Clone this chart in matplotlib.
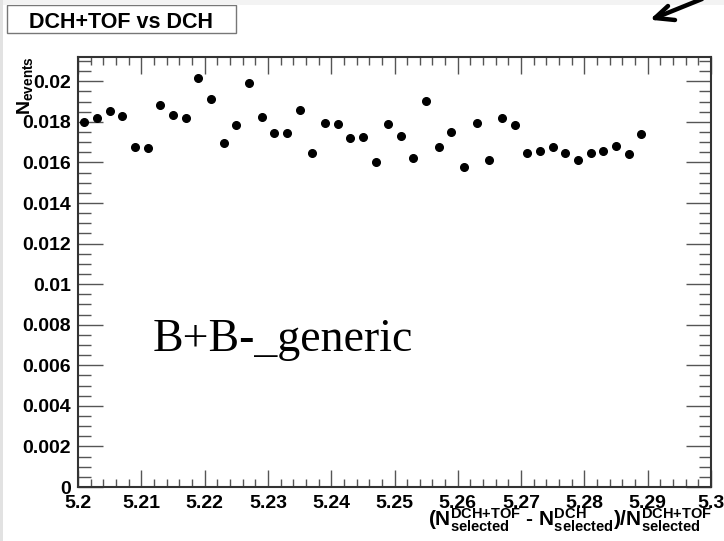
import matplotlib
matplotlib.use('Agg')
import matplotlib.pyplot as plt
from matplotlib.patches import Rectangle
from matplotlib.lines import Line2D
from matplotlib.ticker import MultipleLocator, FuncFormatter

plt.rcParams['font.family'] = 'Liberation Sans'
plt.rcParams['font.weight'] = 'bold'
plt.rcParams['mathtext.fontset'] = 'custom'
plt.rcParams['mathtext.rm'] = 'Liberation Sans:bold'
plt.rcParams['mathtext.bf'] = 'Liberation Sans:bold'
plt.rcParams['mathtext.it'] = 'Liberation Sans:bold'

# bin centres (bin width 0.002) and normalised event counts
bin_centers = [5.201, 5.203, 5.205, 5.207, 5.209, 5.211, 5.213, 5.215, 5.217, 5.219,
               5.221, 5.223, 5.225, 5.227, 5.229, 5.231, 5.233, 5.235, 5.237, 5.239,
               5.241, 5.243, 5.245, 5.247, 5.249, 5.251, 5.253, 5.255, 5.257, 5.259,
               5.261, 5.263, 5.265, 5.267, 5.269, 5.271, 5.273, 5.275, 5.277, 5.279,
               5.281, 5.283, 5.285, 5.287, 5.289]
n_events = [0.01798, 0.01818, 0.01856, 0.01829, 0.01676, 0.01671, 0.01882, 0.01836, 0.01821, 0.02016,
            0.01915, 0.01698, 0.01785, 0.01992, 0.01823, 0.01747, 0.01745, 0.01859, 0.01649, 0.01793,
            0.01791, 0.01723, 0.01727, 0.01602, 0.01790, 0.01729, 0.01621, 0.01901, 0.01675, 0.01749,
            0.01578, 0.01795, 0.01611, 0.01819, 0.01785, 0.01645, 0.01658, 0.01676, 0.01645, 0.01612,
            0.01647, 0.01655, 0.01683, 0.01640, 0.01742]

W, H = 724, 541
fig = plt.figure(figsize=(W / 100, H / 100), dpi=100)
ax = fig.add_axes([78 / W, 1 - 487 / H, (711 - 78) / W, (487 - 57) / H])

ax.plot(bin_centers, n_events, 'o', color='black', markersize=5.5)

ax.set_xlim(5.2, 5.3)
ax.set_ylim(0, 0.0212)
ax.xaxis.set_major_locator(MultipleLocator(0.01))
ax.xaxis.set_minor_locator(MultipleLocator(0.002))
ax.yaxis.set_major_locator(MultipleLocator(0.002))
ax.yaxis.set_minor_locator(MultipleLocator(0.0005))
fmt = FuncFormatter(lambda v, p: '%g' % round(v, 4))
ax.xaxis.set_major_formatter(fmt)
ax.yaxis.set_major_formatter(fmt)

ax.tick_params(which='both', direction='in', top=True, right=True, color='#555555', labelsize=14)
ax.tick_params(axis='x', which='major', length=12, width=1, pad=6)
ax.tick_params(axis='x', which='minor', length=6, width=1)
ax.tick_params(axis='y', which='major', length=18, width=1, pad=5)
ax.tick_params(axis='y', which='minor', length=9, width=1)
for s in ax.spines.values():
    s.set_linewidth(1.5)
    s.set_color('#333333')

# axis titles, ROOT style
fig.text(25 / W, 1 - 56 / H, r'$\mathbf{N_{\text{events}}}$', rotation=90,
         ha='center', va='top', fontsize=14)
fig.text(712 / W, 1 - 526 / H,
         r'$\mathbf{(N^{\text{DCH+TOF}}_{\text{selected}}\text{ - }N^{\text{DCH}}_{\text{selected}})/N^{\text{DCH+TOF}}_{\text{selected}}}$',
         ha='right', va='baseline', fontsize=15)

# title box
fig.patches.append(Rectangle((7 / W, 1 - 33 / H), (236 - 7) / W, (33 - 5) / H,
                             transform=fig.transFigure, facecolor='white',
                             edgecolor='#777777', lw=1))
fig.text(121 / W, 1 - 28 / H, 'DCH+TOF vs DCH', ha='center', va='baseline', fontsize=15.5)

# page strips
fig.patches.append(Rectangle((0, 1 - 5 / H), 1, 5 / H, transform=fig.transFigure,
                             facecolor='#f3f3f3', edgecolor='none'))
fig.patches.append(Rectangle((0, 0), 3 / W, 1, transform=fig.transFigure,
                             facecolor='#e2e2e2', edgecolor='none'))

fig.text(153 / W, 1 - 351 / H, 'B+B-_generic', family='Liberation Serif',
         fontweight='normal', fontsize=33, ha='left', va='baseline')

# hand-drawn arrow in the top right corner
def px(xs, ys):
    return [x / W for x in xs], [1 - y / H for y in ys]

for xs, ys in [([702, 655], [-1, 18]), ([655, 668], [18, 6]), ([655, 675], [18, 20])]:
    fx, fy = px(xs, ys)
    fig.add_artist(Line2D(fx, fy, color='black', lw=3.2, solid_capstyle='round'))

fig.savefig('out.png', dpi=100)
